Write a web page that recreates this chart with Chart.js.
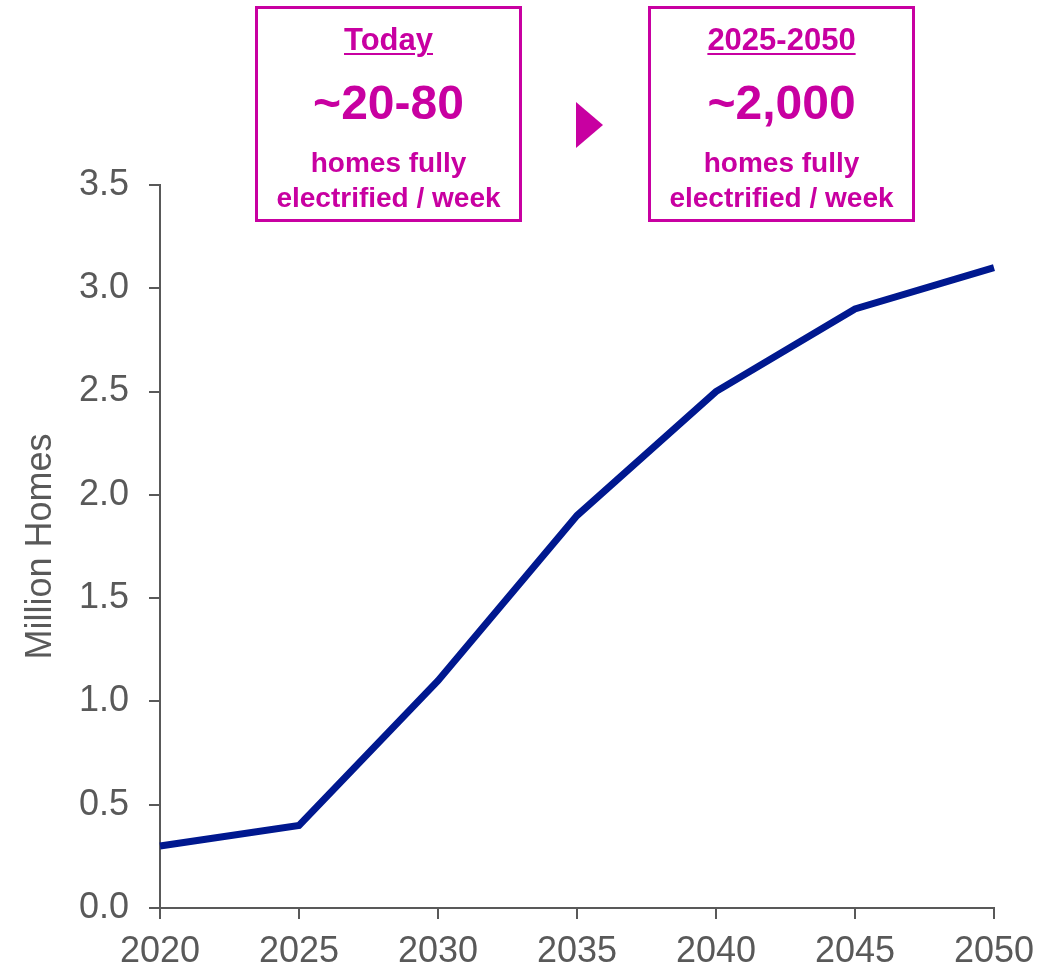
<!DOCTYPE html>
<html>
<head>
<meta charset="utf-8">
<title>Homes fully electrified</title>
<script src="https://cdn.jsdelivr.net/npm/chart.js@4.4.0/dist/chart.umd.min.js"></script>
<style>
    html, body { margin: 0; padding: 0; background: #fff; }
    #wrap { position: relative; width: 1055px; height: 973px; overflow: hidden; }
    #homesChart { position: absolute; left: 0; top: 0; }
    .callout {
        position: absolute;
        top: 6px;
        width: 261px;
        height: 210px;
        border: 3px solid #c800a1;
        color: #c800a1;
        font-family: "Liberation Sans", Arial, sans-serif;
        font-weight: bold;
        text-align: center;
    }
    .callout div { position: absolute; left: 0; right: 0; line-height: 1; white-space: nowrap; }
    .callout .head { font-size: 31px; text-decoration: underline; text-decoration-thickness: 2px; text-underline-offset: 3px; }
    .callout .big { font-size: 48px; }
    .callout .small { font-size: 28px; }
    .arrow {
        position: absolute;
        left: 576px;
        top: 102px;
        width: 0;
        height: 0;
        border-top: 23px solid transparent;
        border-bottom: 23px solid transparent;
        border-left: 27px solid #c800a1;
    }
</style>
</head>
<body>
<div id="wrap">
    <canvas id="homesChart" width="1055" height="973"></canvas>
    <div class="callout" id="boxToday" style="left: 255px;"></div>
    <div class="arrow"></div>
    <div class="callout" id="boxFuture" style="left: 648px;"></div>
</div>
<script>
// Cumulative homes fully electrified, millions
const years = ['2020', '2025', '2030', '2035', '2040', '2045', '2050'];
const millionHomes = [0.3, 0.4, 1.1, 1.9, 2.5, 2.9, 3.1];

const yTicks = [0, 0.5, 1.0, 1.5, 2.0, 2.5, 3.0, 3.5];

// Weekly rate callouts above the chart
const calloutHeads = ['Today', '2025-2050'];
const calloutRates = ['~20-80', '~2,000'];
const calloutNote = ['homes fully', 'electrified / week'];

const GRAY = '#595959';
const NAVY = '#00188f';
const FONT = '"Liberation Sans", Arial, sans-serif';

function fillCallout(id, i) {
    const box = document.getElementById(id);
    const lines = [
        { cls: 'head', text: calloutHeads[i], top: 15 },
        { cls: 'big', text: calloutRates[i], top: 70 },
        { cls: 'small', text: calloutNote[0], top: 140 },
        { cls: 'small', text: calloutNote[1], top: 175 }
    ];
    lines.forEach(l => {
        const d = document.createElement('div');
        d.className = l.cls;
        d.style.top = l.top + 'px';
        d.textContent = l.text;
        box.appendChild(d);
    });
}

fillCallout('boxToday', 0);
fillCallout('boxFuture', 1);

const axisGrid = {
    drawOnChartArea: false,
    drawTicks: true,
    tickLength: 11,
    color: GRAY,
    lineWidth: 2
};

new Chart(document.getElementById('homesChart'), {
    type: 'line',
    data: {
        labels: years,
        datasets: [{
            data: millionHomes,
            borderColor: NAVY,
            borderWidth: 7,
            pointRadius: 0,
            tension: 0,
            fill: false
        }]
    },
    options: {
        responsive: false,
        animation: false,
        layout: {
            padding: { left: 19, top: 185, right: 61, bottom: 0 }
        },
        plugins: {
            legend: { display: false },
            tooltip: { enabled: false }
        },
        scales: {
            x: {
                type: 'category',
                offset: false,
                grid: axisGrid,
                border: { display: true, color: GRAY, width: 2 },
                ticks: {
                    color: GRAY,
                    font: { family: FONT, size: 36 },
                    padding: 11,
                    maxRotation: 0,
                    autoSkip: false
                },
                afterFit: scale => { scale.height = 65; }
            },
            y: {
                min: 0,
                max: 3.5,
                grid: axisGrid,
                border: { display: true, color: GRAY, width: 2 },
                afterBuildTicks: scale => {
                    scale.ticks = yTicks.map(v => ({ value: v }));
                },
                ticks: {
                    color: GRAY,
                    font: { family: FONT, size: 36 },
                    padding: 20,
                    callback: v => Number(v).toFixed(1)
                },
                title: {
                    display: true,
                    text: 'Million Homes',
                    color: GRAY,
                    font: { family: FONT, size: 36 },
                    padding: 0
                },
                afterFit: scale => { scale.width = 141; }
            }
        }
    }
});
</script>
</body>
</html>
